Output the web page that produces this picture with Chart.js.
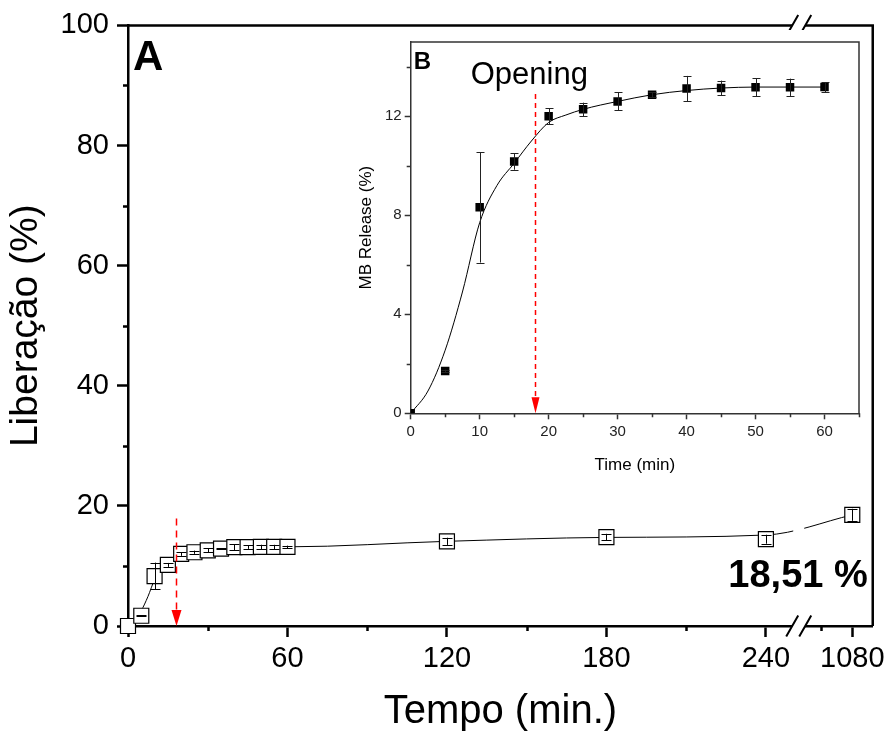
<!DOCTYPE html>
<html>
<head>
<meta charset="utf-8">
<script src="https://cdn.jsdelivr.net/npm/chart.js@4.4.1/dist/chart.umd.min.js"></script>
<style>
  body { margin: 0; background: #fff; }
  #wrap { position: relative; width: 890px; height: 740px; }
  #mainChart { position: absolute; left: 0; top: 0; }
  #insetChart { position: absolute; left: 350px; top: 30px; background: #fff; }
</style>
</head>
<body>
<div id="wrap">
  <canvas id="mainChart" width="890" height="740"></canvas>
  <canvas id="insetChart" width="520" height="450"></canvas>
</div>
<script>
// release data, first hour (min, %)
const times = [0, 5, 10, 15, 20, 25, 30, 35, 40, 45, 50, 55, 60];
const release = [0, 1.71, 8.32, 10.17, 12.0, 12.28, 12.6, 12.87, 13.12, 13.14, 13.17, 13.17, 13.18];
const releaseErr = [0, 0.05, 2.23, 0.33, 0.32, 0.27, 0.36, 0.1, 0.51, 0.3, 0.36, 0.35, 0.2];

// later points
const longTimes = [120, 180, 240, 1080];
const longRelease = [14.1, 14.8, 14.45, 18.51];
const longErr = [0.6, 0.55, 0.75, 1.0];

// fitted curve
const fitTimes = [0, 2.5, 5, 7.5, 10, 12.5, 15, 17.5, 20, 22.5, 25, 30, 35, 40, 45, 50, 60];
const fitRelease = [0, 0.9, 2.55, 4.9, 7.7, 9.2, 10.1, 11.0, 11.75, 12.05, 12.28, 12.6, 12.87, 13.04, 13.14, 13.18, 13.18];
const fitLongTimes = [120, 180, 240, 1080];
const fitLongRelease = [14.1, 14.75, 15.15, 18.5];

// axes
const mainXTicks = [0, 60, 120, 180, 240, 1080];
const mainXMinor = [30, 90, 150, 210, 1020];
const mainYTicks = [0, 20, 40, 60, 80, 100];
const mainYMinor = [10, 30, 50, 70, 90];
const insetXTicks = [0, 10, 20, 30, 40, 50, 60];
const insetXMinor = [5, 15, 25, 35, 45, 55, 65];
const insetYTicks = [0, 4, 8, 12];
const insetYMinor = [2, 6, 10, 14];

const openingTime = 18;
const openingTopMain = 17.9;
const openingTopInset = 12.9;

const FONT = '"Liberation Sans", Arial, sans-serif';
Chart.defaults.font.family = FONT;
Chart.defaults.color = '#000';

// broken x axis: 0-250 min linear, then the 1080 min segment
const AFTER_BREAK = 272.5;
function axisX(t) {
  return t <= 250 ? t : AFTER_BREAK + (t - 1080) * 11.8 / 60;
}
const breakPos = [249.9, 254.8];

function pts(xs, ys, map) {
  return xs.map((x, i) => ({ x: map ? map(x) : x, y: ys[i] }));
}

// error bars drawn from each dataset's `errors`
const errorBars = {
  id: 'errorBars',
  afterDatasetsDraw(chart) {
    const ctx = chart.ctx;
    const ys = chart.scales.y;
    chart.data.datasets.forEach((ds, i) => {
      if (!ds.errors) return;
      const meta = chart.getDatasetMeta(i);
      ctx.save();
      ctx.strokeStyle = ds.errColor || '#000';
      ctx.lineWidth = 1;
      meta.data.forEach((p, j) => {
        const e = ds.errors[j];
        if (!e) return;
        const v = ds.data[j].y;
        const top = ys.getPixelForValue(v + e);
        const bot = ys.getPixelForValue(v - e);
        const x = Math.round(p.x) + 0.5;
        const c = ds.capWidth / 2;
        ctx.beginPath();
        ctx.moveTo(x, top); ctx.lineTo(x, bot);
        ctx.moveTo(x - c, Math.round(top) + 0.5); ctx.lineTo(x + c, Math.round(top) + 0.5);
        ctx.moveTo(x - c, Math.round(bot) + 0.5); ctx.lineTo(x + c, Math.round(bot) + 0.5);
        ctx.stroke();
      });
      ctx.restore();
    });
  }
};

// minor ticks, frame, opening arrow, labels
const extras = {
  id: 'extras',
  beforeDatasetsDraw(chart, args, opts) {
    const ctx = chart.ctx;
    const a = chart.chartArea;
    const xs = chart.scales.x, ys = chart.scales.y;
    ctx.save();
    ctx.strokeStyle = opts.frameColor;
    ctx.lineWidth = opts.frameWidth;
    ctx.beginPath();
    ctx.moveTo(a.left, a.top); ctx.lineTo(a.right, a.top); ctx.lineTo(a.right, a.bottom);
    ctx.stroke();
    ctx.beginPath();
    opts.xMinor.forEach(v => {
      const x = Math.round(xs.getPixelForValue(opts.mapX ? opts.mapX(v) : v)) + 0.5;
      ctx.moveTo(x, a.bottom); ctx.lineTo(x, a.bottom + opts.minorLen);
    });
    opts.yMinor.forEach(v => {
      const y = Math.round(ys.getPixelForValue(v)) + 0.5;
      ctx.moveTo(a.left, y); ctx.lineTo(a.left - opts.minorLen, y);
    });
    ctx.stroke();
    ctx.restore();
  },
  afterDatasetsDraw(chart, args, opts) {
    const ctx = chart.ctx;
    const a = chart.chartArea;
    const xs = chart.scales.x, ys = chart.scales.y;
    ctx.save();
    if (opts.breaks) {
      const b0 = xs.getPixelForValue(opts.breaks[0]);
      const b1 = xs.getPixelForValue(opts.breaks[1]);
      const dx = 6, h = 10.5;
      [a.top, a.bottom].forEach(y0 => {
        ctx.fillStyle = '#fff';
        ctx.beginPath();
        ctx.moveTo(b0 - dx, y0 + h); ctx.lineTo(b0 + dx, y0 - h);
        ctx.lineTo(b1 + dx, y0 - h); ctx.lineTo(b1 - dx, y0 + h);
        ctx.closePath(); ctx.fill();
        ctx.strokeStyle = '#000'; ctx.lineWidth = 2;
        ctx.beginPath();
        ctx.moveTo(b0 - dx, y0 + h); ctx.lineTo(b0 + dx, y0 - h);
        ctx.moveTo(b1 - dx, y0 + h); ctx.lineTo(b1 + dx, y0 - h);
        ctx.stroke();
      });
      // gap in the curve
      const yb = ys.getPixelForValue(opts.curveGapY);
      ctx.fillStyle = '#fff';
      ctx.fillRect(b0 + 1, yb - 12, b1 - b0 - 2, 24);
    }
    // opening arrow
    const ax = Math.round(xs.getPixelForValue(opts.arrowX)) + 0.5;
    const aTop = ys.getPixelForValue(opts.arrowTop);
    const aBot = ys.getPixelForValue(0);
    ctx.strokeStyle = '#ff0000';
    ctx.fillStyle = '#ff0000';
    ctx.lineWidth = 1.5;
    ctx.setLineDash(opts.dash);
    ctx.beginPath();
    ctx.moveTo(ax, aTop); ctx.lineTo(ax, aBot - opts.headLen + 2);
    ctx.stroke();
    ctx.setLineDash([]);
    ctx.beginPath();
    ctx.moveTo(ax - opts.headW / 2, aBot - opts.headLen);
    ctx.lineTo(ax + opts.headW / 2, aBot - opts.headLen);
    ctx.lineTo(ax, aBot);
    ctx.closePath(); ctx.fill();
    // labels
    ctx.fillStyle = '#000';
    ctx.textBaseline = 'alphabetic';
    opts.labels.forEach(l => {
      ctx.font = l.font;
      ctx.textAlign = l.align;
      ctx.fillText(l.text, l.dx < 0 ? a.right + l.dx : a.left + l.dx, a.top + l.dy);
    });
    ctx.restore();
  }
};

const fixedTicks = (list, map) => scale => {
  scale.ticks = list.map(v => ({ value: map ? map(v) : v }));
};

new Chart(document.getElementById('mainChart'), {
  type: 'scatter',
  data: {
    datasets: [{
      data: pts(times.concat(longTimes), release.concat(longRelease), axisX),
      errors: releaseErr.concat(longErr),
      capWidth: 10,
      pointStyle: 'rect',
      pointRadius: 10.6,
      pointBorderWidth: 1.2,
      pointBorderColor: '#000',
      pointBackgroundColor: '#fff',
      clip: false,
      showLine: false
    }, {
      data: pts(fitTimes.concat(fitLongTimes), fitRelease.concat(fitLongRelease), axisX),
      showLine: true,
      borderColor: '#000',
      borderWidth: 1,
      pointRadius: 0,
      cubicInterpolationMode: 'monotone'
    }]
  },
  options: {
    responsive: false,
    animation: false,
    layout: { padding: { top: 23, right: 17, left: 0, bottom: 0 } },
    plugins: {
      legend: { display: false },
      tooltip: { enabled: false },
      extras: {
        frameColor: '#000', frameWidth: 2.5,
        xMinor: mainXMinor, yMinor: mainYMinor, mapX: axisX, minorLen: 5,
        breaks: breakPos, curveGapY: 16.1,
        arrowX: openingTime, arrowTop: openingTopMain, dash: [7, 5], headW: 10, headLen: 16,
        labels: [
          { text: 'A', font: 'bold 42px ' + FONT, align: 'left', dx: 5, dy: 45 },
          { text: '18,51 %', font: 'bold 38px ' + FONT, align: 'right', dx: -5, dy: 562 }
        ]
      }
    },
    scales: {
      x: {
        type: 'linear', min: 0, max: 280.2,
        afterFit: s => { s.height = 114; },
        afterBuildTicks: fixedTicks(mainXTicks, axisX),
        border: { color: '#000', width: 2.5 },
        grid: { drawOnChartArea: false, tickLength: 11, tickColor: '#000', tickWidth: 2.5 },
        ticks: {
          font: { size: 29 }, padding: 5, maxRotation: 0, autoSkip: false,
          callback: (v, i) => mainXTicks[i]
        },
        title: { display: true, text: 'Tempo (min.)', font: { size: 40 }, padding: { top: 2 } }
      },
      y: {
        min: 0, max: 100,
        afterFit: s => { s.width = 128; },
        afterBuildTicks: fixedTicks(mainYTicks),
        border: { color: '#000', width: 2.5 },
        grid: { drawOnChartArea: false, tickLength: 11, tickColor: '#000', tickWidth: 2.5 },
        ticks: { font: { size: 29 }, padding: 8 },
        title: { display: true, text: 'Liberação (%)', font: { size: 39 }, padding: { top: 3 } }
      }
    }
  },
  plugins: [errorBars, extras]
});

new Chart(document.getElementById('insetChart'), {
  type: 'scatter',
  data: {
    datasets: [{
      data: pts(times, release),
      errors: releaseErr,
      capWidth: 8,
      errColor: '#222',
      pointStyle: 'rect',
      pointRadius: 6,
      pointBorderWidth: 0,
      pointBackgroundColor: '#000',
      clip: 0,
      showLine: false
    }, {
      data: pts(fitTimes, fitRelease),
      showLine: true,
      borderColor: '#000',
      borderWidth: 1,
      pointRadius: 0,
      cubicInterpolationMode: 'monotone'
    }]
  },
  options: {
    responsive: false,
    animation: false,
    layout: { padding: { top: 10, right: 11, left: 0, bottom: 0 } },
    plugins: {
      legend: { display: false },
      tooltip: { enabled: false },
      extras: {
        frameColor: '#333', frameWidth: 1.5,
        xMinor: insetXMinor, yMinor: insetYMinor, minorLen: 4,
        arrowX: openingTime, arrowTop: openingTopInset, dash: [5, 4], headW: 8, headLen: 16,
        labels: [
          { text: 'B', font: 'bold 24px ' + FONT, align: 'left', dx: 3, dy: 27 },
          { text: 'Opening', font: '31px ' + FONT, align: 'left', dx: 60, dy: 42 }
        ]
      }
    },
    scales: {
      x: {
        type: 'linear', min: 0, max: 65,
        afterFit: s => { s.height = 66.7; },
        afterBuildTicks: fixedTicks(insetXTicks),
        border: { color: '#333', width: 1.5 },
        grid: { drawOnChartArea: false, tickLength: 6, tickColor: '#333', tickWidth: 1.5 },
        ticks: { font: { size: 15 }, color: '#222', padding: 4, maxRotation: 0, autoSkip: false },
        title: { display: true, text: 'Time (min)', font: { size: 17 }, padding: { top: 3 } }
      },
      y: {
        min: 0, max: 15,
        afterFit: s => { s.width = 60.7; },
        afterBuildTicks: fixedTicks(insetYTicks),
        border: { color: '#333', width: 1.5 },
        grid: { drawOnChartArea: false, tickLength: 6, tickColor: '#333', tickWidth: 1.5 },
        ticks: { font: { size: 15 }, color: '#222', padding: 3 },
        title: { display: true, text: 'MB Release (%)', font: { size: 17 }, padding: { top: 6 } }
      }
    }
  },
  plugins: [errorBars, extras]
});
</script>
</body>
</html>
